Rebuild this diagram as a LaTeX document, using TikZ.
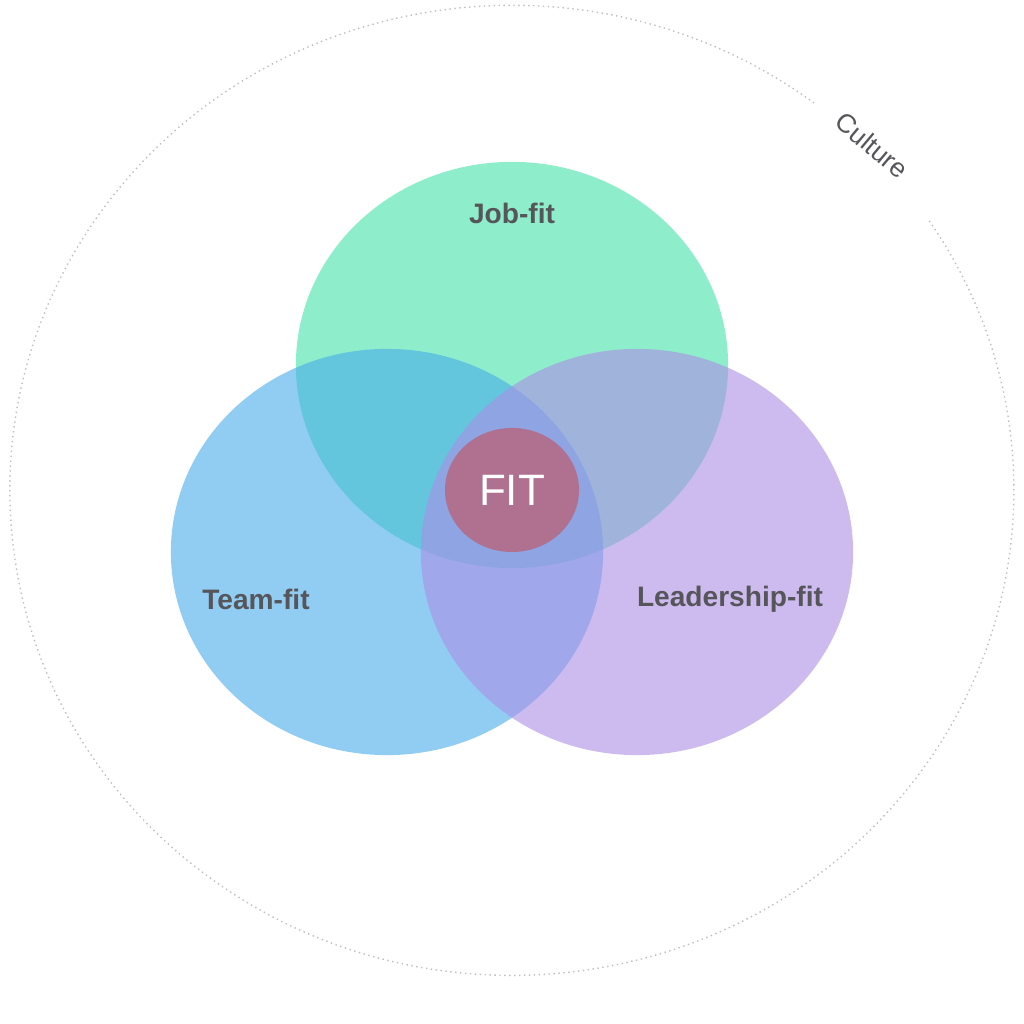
\documentclass[tikz,border=0pt]{standalone}
\usepackage{fontspec}
\setmainfont{Liberation Sans}
\usetikzlibrary{shapes.geometric}
\definecolor{jobc}{RGB}{67,227,168}
\definecolor{teamc}{RGB}{72,172,235}
\definecolor{leadc}{RGB}{172,142,230}
\definecolor{fitc}{RGB}{176,112,144}
\definecolor{labc}{RGB}{85,85,90}
\tikzset{
  circ/.style={ellipse, inner sep=0pt, minimum width=4.32cm, minimum height=4.06cm, fill opacity=0.6},
  lab/.style={text=labc, font=\fontsize{8}{9}\selectfont\bfseries}
}
\begin{document}
\begin{tikzpicture}[x=0.01cm, y=0.01cm]
    % Frame
    \useasboundingbox (0,0) rectangle (1024,1024);
    % Culture ring
    \draw [gray!50, densely dotted, line width=0.4pt] (814,921) arc[start angle=53, end angle=394, x radius=502, y radius=485];
    \node [rotate=-40, text=labc, font=\fontsize{7.5}{9}\selectfont] (culture) at (872,879) {Culture};
    % Place circles
    \node [circ, fill=jobc] (job) at (512,659) {};
    \node [circ, fill=teamc] (team) at (387,472) {};
    \node [circ, fill=leadc] (lead) at (637,472) {};
    \node [ellipse, inner sep=0pt, minimum width=1.34cm, minimum height=1.24cm, fill=fitc, text=white, font=\fontsize{12.5}{14}\selectfont] (fit) at (512,534) {FIT};
    % Labels
    \node [lab] (joblab) at (512,811) {Job-fit};
    \node [lab] (teamlab) at (256,425) {Team-fit};
    \node [lab] (leadlab) at (730,425) {Leadership-fit};
\end{tikzpicture}
\end{document}
